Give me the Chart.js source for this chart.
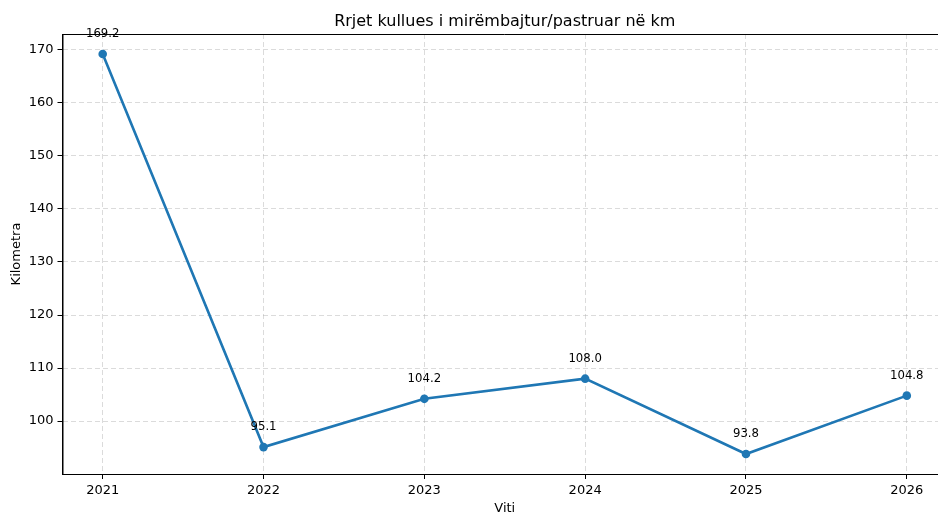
<!DOCTYPE html>
<html>
<head>
<meta charset="utf-8">
<script src="https://cdn.jsdelivr.net/npm/chart.js@4/dist/chart.umd.min.js"></script>
<style>
    html, body { margin: 0; padding: 0; background: #fff; overflow: hidden; }
    #wrap { width: 938px; height: 514px; overflow: hidden; }
</style>
</head>
<body>
<div id="wrap"><canvas id="chart" width="960" height="514"></canvas></div>
<script>
    // Data
    const years = [2021, 2022, 2023, 2024, 2025, 2026];
    const kilometres = [169.2, 95.1, 104.2, 108.0, 93.8, 104.8];
    const yTicks = [100, 110, 120, 130, 140, 150, 160, 170];

    const FONT = 'DejaVu Sans';
    const BLUE = '#1f77b4';
    const GRID = 'rgba(176,176,176,0.45)';

    // Title, axis titles, spines and point labels
    const extras = {
        id: 'extras',
        afterDraw(chart) {
            const ctx = chart.ctx;
            const area = chart.chartArea;
            const x = chart.scales.x;
            const y = chart.scales.y;
            const midX = (area.left + area.right) / 2;
            const midY = (area.top + area.bottom) / 2;

            ctx.save();
            // spines (solid)
            ctx.strokeStyle = '#000';
            ctx.lineWidth = 1;
            ctx.setLineDash([]);
            ctx.beginPath();
            ctx.moveTo(area.left, area.top + 0.5);
            ctx.lineTo(area.right, area.top + 0.5);
            ctx.moveTo(area.left + 0.5, area.top);
            ctx.lineTo(area.left + 0.5, area.bottom);
            ctx.moveTo(area.left, area.bottom + 0.5);
            ctx.lineTo(area.right, area.bottom + 0.5);
            ctx.stroke();

            ctx.fillStyle = '#000';
            ctx.textAlign = 'center';

            ctx.font = '16px "' + FONT + '"';
            ctx.textBaseline = 'alphabetic';
            ctx.fillText('Rrjet kullues i mirëmbajtur/pastruar në km', midX, 26);

            ctx.font = '13px "' + FONT + '"';
            ctx.textBaseline = 'middle';
            ctx.fillText('Viti', midX, 509);

            ctx.save();
            ctx.translate(17, midY);
            ctx.rotate(-Math.PI / 2);
            ctx.fillText('Kilometra', 0, 0);
            ctx.restore();

            ctx.font = '11.7px "' + FONT + '"';
            ctx.textBaseline = 'alphabetic';
            years.forEach((yr, i) => {
                const px = x.getPixelForValue(yr);
                const py = y.getPixelForValue(kilometres[i]);
                ctx.fillText(kilometres[i].toFixed(1), px, py - 17);
            });
            ctx.restore();
        }
    };

    function gridOpts() {
        return {
            color: GRID,
            lineWidth: 1,
            tickColor: '#000',
            tickLength: 5,
            tickBorderDash: [],
            tickWidth: 1
        };
    }

    document.addEventListener('DOMContentLoaded', function() {
        const ctx = document.getElementById('chart').getContext('2d');
        new Chart(ctx, {
            type: 'line',
            data: {
                datasets: [{
                    data: years.map((yr, i) => ({ x: yr, y: kilometres[i] })),
                    borderColor: BLUE,
                    backgroundColor: BLUE,
                    borderWidth: 2.6,
                    pointRadius: 4.3,
                    pointBorderWidth: 0,
                    pointBackgroundColor: BLUE,
                    tension: 0
                }]
            },
            options: {
                responsive: false,
                animation: false,
                layout: { padding: { top: 34, right: 13, left: 0, bottom: 0 } },
                plugins: {
                    legend: { display: false },
                    tooltip: { enabled: false },
                    title: { display: false }
                },
                scales: {
                    x: {
                        type: 'linear',
                        min: 2020.75,
                        max: 2026.25,
                        afterBuildTicks: s => { s.ticks = years.map(v => ({ value: v })); },
                        afterFit: s => { s.height = 40; },
                        ticks: {
                            callback: v => String(v),
                            font: { family: FONT, size: 13 },
                            color: '#000',
                            padding: 4,
                            maxRotation: 0
                        },
                        grid: gridOpts(),
                        border: { color: '#000', width: 1, dash: [5, 3] }
                    },
                    y: {
                        min: 90.03,
                        max: 172.97,
                        afterBuildTicks: s => { s.ticks = yTicks.map(v => ({ value: v })); },
                        afterFit: s => { s.width = 62.5; },
                        ticks: {
                            callback: v => String(v),
                            font: { family: FONT, size: 13 },
                            color: '#000',
                            padding: 4
                        },
                        grid: gridOpts(),
                        border: { color: '#000', width: 1, dash: [5, 3] }
                    }
                }
            },
            plugins: [extras]
        });
    });
</script>
</body>
</html>
